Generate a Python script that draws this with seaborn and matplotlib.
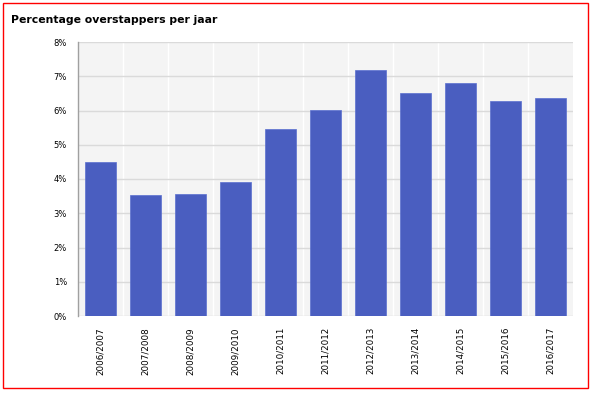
import matplotlib
matplotlib.use("Agg")
import matplotlib.pyplot as plt
import seaborn as sns
import pandas as pd
from matplotlib.patches import Rectangle
from matplotlib.ticker import FixedLocator

years = ["2006/2007", "2007/2008", "2008/2009", "2009/2010", "2010/2011", "2011/2012",
         "2012/2013", "2013/2014", "2014/2015", "2015/2016", "2016/2017"]
values = [4.50, 3.53, 3.56, 3.91, 5.46, 6.01, 7.18, 6.51, 6.80, 6.28, 6.36]
ytick_vals = [0, 1, 2, 3, 4, 5, 6, 7, 8]
ytick_labels = [f"{v}%" for v in ytick_vals]
title = "Percentage overstappers per jaar"

sns.set_style("white")
plt.rcParams['font.family'] = ['DejaVu Sans']

fig = plt.figure(figsize=(5.91, 3.94), dpi=100)
ax = fig.add_axes([78/591, 1-316/394, (573-78)/591, (316-42)/394])
ax.set_facecolor("#f4f4f4")

df = pd.DataFrame({"jaar": years, "pct": values})
sns.barplot(data=df, x="jaar", y="pct", color="#4a5ec0", saturation=1, width=0.67, ax=ax, zorder=3,
            edgecolor="#5a6fd0", linewidth=0.5)

ax.set_ylim(0, 8)
ax.set_xlim(-0.5, len(years)-0.5)
ax.set_yticks(ytick_vals)
ax.set_yticklabels(ytick_labels, fontsize=6)
ax.set_xticks(range(len(years)))
ax.set_xticklabels(years, rotation=90, fontsize=6.3)
ax.xaxis.set_minor_locator(FixedLocator([i + 0.5 for i in range(len(years)-1)]))
ax.grid(axis="y", which="major", color="#dadada", linewidth=1, zorder=1)
ax.grid(axis="x", which="minor", color="white", linewidth=1, zorder=1)
ax.set_axisbelow(True)
ax.set_xlabel("")
ax.set_ylabel("")
for s in ["top", "right", "bottom"]:
    ax.spines[s].set_visible(False)
ax.spines["left"].set_color("#a0a0a0")
ax.spines["left"].set_linewidth(1)
ax.tick_params(axis="y", length=4, width=1, color="#a0a0a0", pad=4, labelcolor="black")
ax.tick_params(axis="x", which="both", length=0, pad=8, labelcolor="black")

fig.text(11/591, 1-20/394, title, fontsize=7.8, fontweight="bold", va="center", ha="left", color="black")
fig.patches.append(Rectangle((3/591, 1-388/394), (588-3)/591, (388-3)/394,
                             transform=fig.transFigure, fill=False, edgecolor="red", linewidth=1))

fig.savefig("out.png", dpi=100)
